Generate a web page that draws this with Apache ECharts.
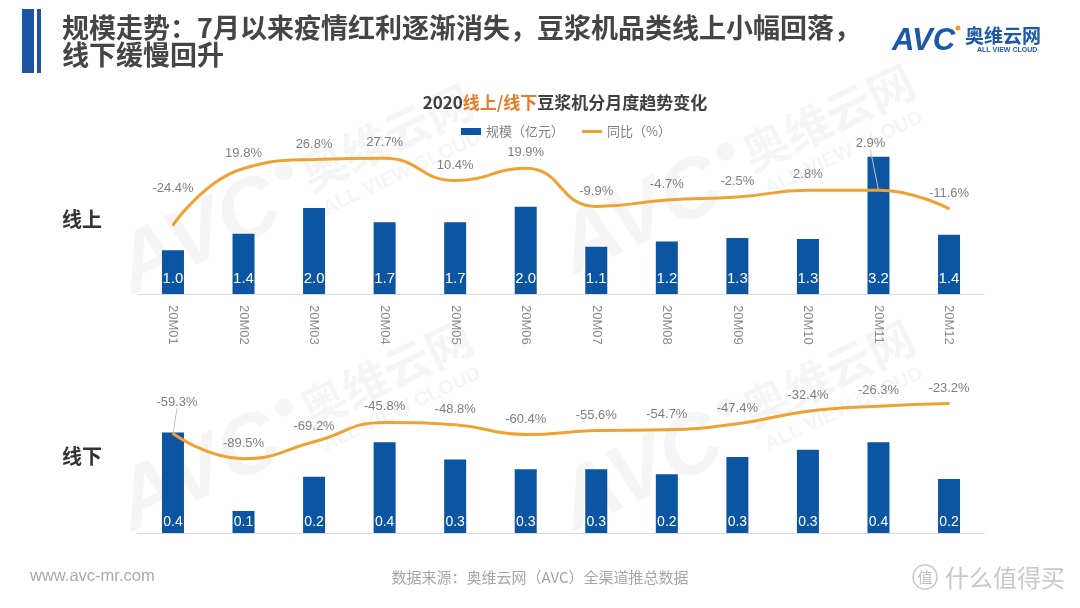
<!DOCTYPE html>
<html><head><meta charset="utf-8">
<script src="https://cdn.jsdelivr.net/npm/echarts@6/dist/echarts.min.js"></script>
<style>html,body{margin:0;padding:0;background:#fff;}#c{width:1080px;height:608px;}</style>
</head><body><div id="c"></div>
<script>
// ---- data ----
const categories = ['20M01','20M02','20M03','20M04','20M05','20M06','20M07','20M08','20M09','20M10','20M11','20M12'];
const onlineScale = [1.02, 1.40, 2.00, 1.67, 1.67, 2.03, 1.10, 1.22, 1.30, 1.28, 3.19, 1.38];
const onlineYoY = [-24.4, 19.8, 26.8, 27.7, 10.4, 19.9, -9.9, -4.7, -2.5, 2.8, 2.9, -11.6];
const offlineScale = [0.41, 0.09, 0.23, 0.37, 0.30, 0.26, 0.26, 0.24, 0.31, 0.34, 0.37, 0.22];
const offlineYoY = [-59.3, -89.5, -69.2, -45.8, -48.8, -60.4, -55.6, -54.7, -47.4, -32.4, -26.3, -23.2];
const seriesNames = ['规模（亿元）', '同比（%）'];

// ---- style ----
const BLUE = '#0B55A3', ORANGE = '#EFA132', GRAY = '#7f7f7f';
const CJK = '"Noto Sans CJK SC","Noto Sans",sans-serif';
const NUM = '"Liberation Sans",Arial,sans-serif';
const topLabelShift = {0: [0, -21], 10: [-8, -31]};
const topLeader = {10: true};
const bottomLabelShift = {0: [4, -16]};
const bottomLeader = {0: true};

function withLeaders(values, leaders) {
  return values.map((v, i) => leaders[i]
    ? {value: v, labelLine: {show: true, length2: 0, lineStyle: {color: '#c4c4c4', width: 1}}}
    : v);
}
function shiftFn(map) {
  return function (p) { const o = map[p.dataIndex]; return o ? {dx: o[0], dy: o[1]} : {}; };
}
function barSeries(data, x, y, fs, dist) {
  return {
    type: 'bar', name: seriesNames[0], xAxisIndex: x, yAxisIndex: y, data: data,
    barWidth: 22, itemStyle: {color: BLUE}, z: 2,
    label: {show: true, position: 'insideBottom', distance: dist, color: '#fff',
      fontSize: fs, fontFamily: NUM, formatter: p => p.value.toFixed(1)}
  };
}
function lineSeries(data, x, y, shift) {
  return {
    type: 'line', name: seriesNames[1], xAxisIndex: x, yAxisIndex: y, data: data,
    smooth: true, symbol: 'circle', symbolSize: 2, showSymbol: true, z: 4,
    itemStyle: {color: ORANGE}, lineStyle: {color: ORANGE, width: 3},
    label: {show: true, position: 'top', distance: 8, color: GRAY, fontSize: 13,
      fontFamily: NUM, formatter: p => (typeof p.value === 'object' ? p.value.value : p.value) + '%'},
    labelLayout: shiftFn(shift)
  };
}
function watermark(x, y) {
  const c = 'rgba(120,120,120,0.075)';
  return {type: 'group', x: x, y: y, rotation: 0.44, z: 0, silent: true, children: [
    {type: 'text', x: 0, y: 0, style: {text: 'AVC', font: 'italic 900 84px ' + NUM, fill: c, verticalAlign: 'bottom'}},
    {type: 'circle', shape: {cx: 190, cy: -66, r: 9}, style: {fill: c}},
    {type: 'text', x: 205, y: -30, style: {text: '奥维云网', font: 'bold 46px ' + CJK, fill: c, verticalAlign: 'bottom'}},
    {type: 'text', x: 210, y: -4, style: {text: 'ALL VIEW CLOUD', font: 'bold 20px ' + NUM, fill: c, verticalAlign: 'bottom'}}
  ]};
}

const chart = echarts.init(document.getElementById('c'));
chart.setOption({
  animation: false,
  backgroundColor: '#fff',
  legend: {
    data: [
      {name: seriesNames[0], icon: 'rect'},
      {name: seriesNames[1], icon: 'path://M0 2H20V5H0Z M0 0H0.01V0.01H0Z M20 7H19.99V6.99H20Z'}
    ],
    left: 456, top: 120, itemWidth: 20, itemHeight: 7, itemGap: 18,
    textStyle: {color: GRAY, fontSize: 13, fontFamily: CJK}
  },
  grid: [
    {left: 137.7, right: 95.7, top: 122, height: 172},
    {left: 137.7, right: 95.7, top: 386, height: 147}
  ],
  xAxis: [
    {type: 'category', gridIndex: 0, data: categories, axisTick: {show: false},
      axisLine: {lineStyle: {color: '#d9d9d9'}},
      axisLabel: {rotate: -90, margin: 11, color: '#8c8c8c', fontSize: 13, fontFamily: NUM}},
    {type: 'category', gridIndex: 1, data: categories, axisTick: {show: false},
      axisLine: {lineStyle: {color: '#d9d9d9'}}, axisLabel: {show: false}}
  ],
  yAxis: [
    {type: 'value', gridIndex: 0, min: 0, max: 4, show: false},
    {type: 'value', gridIndex: 0, min: -78, max: 56, show: false},
    {type: 'value', gridIndex: 1, min: 0, max: 0.6, show: false},
    {type: 'value', gridIndex: 1, min: -179, max: -2, show: false}
  ],
  series: [
    barSeries(onlineScale, 0, 0, 15, 8),
    lineSeries(withLeaders(onlineYoY, topLeader), 0, 1, topLabelShift),
    barSeries(offlineScale, 1, 2, 14, 4),
    lineSeries(withLeaders(offlineYoY, bottomLeader), 1, 3, bottomLabelShift)
  ],
  graphic: [
    watermark(140, 312), watermark(582, 292), watermark(140, 548), watermark(582, 548),
    {type: 'rect', shape: {x: 22, y: 9, width: 12, height: 64}, style: {fill: '#1C55A5'}},
    {type: 'rect', shape: {x: 37, y: 9, width: 4, height: 64}, style: {fill: '#1C55A5'}},
    {type: 'text', x: 62, y: 14, style: {
      text: '规模走势：7月以来疫情红利逐渐消失，豆浆机品类线上小幅回落，\n线下缓慢回升',
      font: 'bold 27px ' + CJK, fill: '#454545', lineHeight: 27, verticalAlign: 'top'}},
    {type: 'text', x: 565, y: 103, style: {
      text: '{a|2020}{b|线上/线下}{a|豆浆机分月度趋势变化}', align: 'center', verticalAlign: 'middle',
      rich: {a: {fontSize: 17, fontWeight: 'bold', fontFamily: CJK, fill: '#404040'},
             b: {fontSize: 17, fontWeight: 'bold', fontFamily: CJK, fill: '#E97B26'}}}},
    {type: 'text', x: 62, y: 219, style: {text: '线上', font: 'bold 20px ' + CJK, fill: '#333', verticalAlign: 'middle'}},
    {type: 'text', x: 62, y: 456, style: {text: '线下', font: 'bold 20px ' + CJK, fill: '#333', verticalAlign: 'middle'}},
    {type: 'text', x: 892, y: 41, style: {text: 'AVC', font: 'italic 900 31px ' + NUM, fill: '#1D57A8', verticalAlign: 'middle'}},
    {type: 'circle', shape: {cx: 958, cy: 28, r: 2.5}, style: {fill: '#F29A2E'}},
    {type: 'text', x: 965, y: 36, style: {text: '奥维云网', font: 'bold 19px ' + CJK, fill: '#1D57A8', verticalAlign: 'middle'}},
    {type: 'text', x: 977, y: 50, style: {text: 'ALL VIEW CLOUD', font: 'bold 7px ' + NUM, fill: '#1D57A8', verticalAlign: 'middle'}},
    {type: 'text', x: 30, y: 576, style: {text: 'www.avc-mr.com', font: '16.5px ' + NUM, fill: '#ababab', verticalAlign: 'middle'}},
    {type: 'text', x: 540, y: 577, style: {text: '数据来源：奥维云网（AVC）全渠道推总数据', font: '15px ' + CJK, fill: '#a6a6a6', align: 'center', verticalAlign: 'middle'}},
    {type: 'circle', shape: {cx: 925, cy: 577, r: 12}, style: {fill: 'none', stroke: '#c8c8c8', lineWidth: 1.5}},
    {type: 'text', x: 925, y: 577, style: {text: '值', font: '15px ' + CJK, fill: '#bdbdbd', align: 'center', verticalAlign: 'middle'}},
    {type: 'text', x: 945, y: 578, style: {text: '什么值得买', font: '24px ' + CJK, fill: '#c8c8c8', verticalAlign: 'middle'}}
  ]
});
</script></body></html>
